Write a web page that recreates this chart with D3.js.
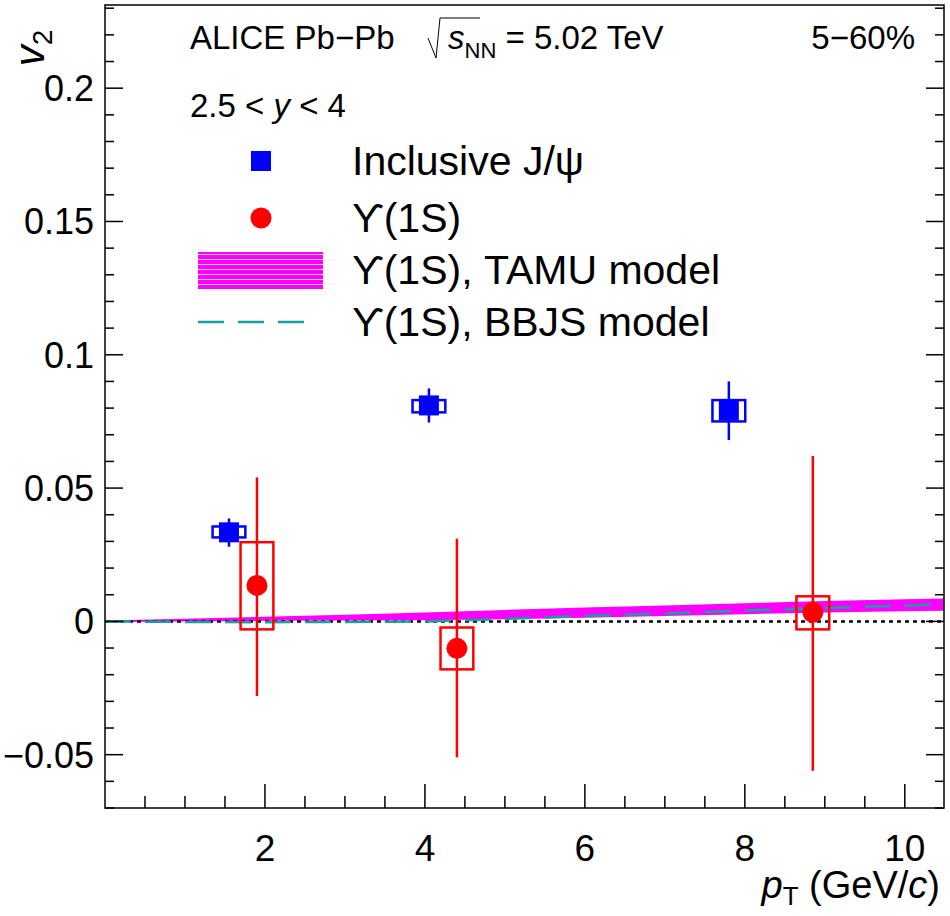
<!DOCTYPE html>
<html><head><meta charset="utf-8">
<script src="https://cdn.jsdelivr.net/npm/d3@7"></script>
<style>body{margin:0;background:#fff}text{font-family:"Liberation Sans",Arial,sans-serif}</style>
</head><body>
<script>
// J/psi points
var jpsiPt = [1.55, 4.05, 7.8];
var jpsiV2 = [0.0334, 0.081, 0.0791];
var jpsiStatLo = [0.028, 0.0746, 0.068];
var jpsiStatHi = [0.0386, 0.0874, 0.090];
var jpsiSysLo = [0.0315, 0.0784, 0.075];
var jpsiSysHi = [0.0356, 0.083, 0.083];
// Upsilon(1S) points
var upsPt = [1.9, 4.4, 8.85];
var upsV2 = [0.0135, -0.0101, 0.0034];
var upsStatLo = [-0.028, -0.051, -0.056];
var upsStatHi = [0.054, 0.031, 0.062];
var upsSysLo = [-0.003, -0.018, -0.003];
var upsSysHi = [0.0297, -0.0023, 0.0094];
// TAMU band
var tamuPt = [0, 1, 2, 3, 4, 5, 6, 7, 8, 9, 10, 10.5];
var tamuLo = [-0.0003, 0, 0.0002, 0.0003, 0.0004, 0.0008, 0.0014, 0.002, 0.0027, 0.0033, 0.0038, 0.004];
var tamuHi = [0.0003, 0.001, 0.0017, 0.0025, 0.0033, 0.0043, 0.0052, 0.006, 0.0068, 0.0076, 0.0083, 0.0086];
// BBJS curve
var bbjsPt = [0, 1, 2, 3, 4, 5, 6, 7, 8, 9, 10, 10.5];
var bbjsV2 = [0, -0.0002, -0.0003, -0.0002, 0, 0.0009, 0.002, 0.003, 0.0041, 0.005, 0.0059, 0.0064];

var xTicks = [2, 4, 6, 8, 10];
var yTicks = [-0.05, 0, 0.05, 0.1, 0.15, 0.2];
var yTickLabels = ["\u22120.05", "0", "0.05", "0.1", "0.15", "0.2"];

var W = 950, H = 916;
var svg = d3.select("body").append("svg").attr("width", W).attr("height", H);
var x = d3.scaleLinear().domain([0, 10.49]).range([105, 944]);
var y = d3.scaleLinear().domain([-0.07, 0.2312]).range([808, 5]);

var defs = svg.append("defs");
defs.append("clipPath").attr("id", "clip").append("rect")
  .attr("x", 105).attr("y", 5).attr("width", 839).attr("height", 803);
var pat = defs.append("pattern").attr("id", "hatch").attr("patternUnits", "userSpaceOnUse")
  .attr("width", 10).attr("height", 5);
pat.append("rect").attr("width", 10).attr("height", 5).attr("fill", "#ff00ff");
pat.append("line").attr("x1", 0).attr("x2", 10).attr("y1", 4.5).attr("y2", 4.5).attr("stroke", "#fff").attr("stroke-width", 0.8);

var plot = svg.append("g").attr("clip-path", "url(#clip)");

// TAMU band
var area = d3.area().x(function(d, i) { return x(tamuPt[i]); })
  .y0(function(d, i) { return y(tamuLo[i]); }).y1(function(d, i) { return y(tamuHi[i]); });
plot.append("path").datum(tamuPt).attr("d", area).attr("fill", "#ff00ff");

// zero line
plot.append("line").attr("x1", x(0)).attr("x2", x(10.49)).attr("y1", y(0)).attr("y2", y(0))
  .attr("stroke", "#000").attr("stroke-width", 2.5).attr("stroke-dasharray", "4,4");

// BBJS
var line = d3.line().x(function(d, i) { return x(bbjsPt[i]); }).y(function(d, i) { return y(bbjsV2[i]); });
plot.append("path").datum(bbjsPt).attr("d", line).attr("fill", "none")
  .attr("stroke", "#1a9e9e").attr("stroke-width", 2.5).attr("stroke-dasharray", "26,14");

var bw = 0.205;
// J/psi
jpsiPt.forEach(function(p, i) {
  plot.append("line").attr("x1", x(p)).attr("x2", x(p)).attr("y1", y(jpsiStatLo[i])).attr("y2", y(jpsiStatHi[i]))
    .attr("stroke", "blue").attr("stroke-width", 2.5);
  plot.append("rect").attr("x", x(p - bw)).attr("width", x(p + bw) - x(p - bw))
    .attr("y", y(jpsiSysHi[i])).attr("height", y(jpsiSysLo[i]) - y(jpsiSysHi[i]))
    .attr("fill", "none").attr("stroke", "blue").attr("stroke-width", 2.5);
  plot.append("rect").attr("x", x(p) - 10).attr("y", y(jpsiV2[i]) - 10).attr("width", 20).attr("height", 20).attr("fill", "blue");
});
// Upsilon
upsPt.forEach(function(p, i) {
  plot.append("line").attr("x1", x(p)).attr("x2", x(p)).attr("y1", y(upsStatLo[i])).attr("y2", y(upsStatHi[i]))
    .attr("stroke", "red").attr("stroke-width", 2.5);
  plot.append("rect").attr("x", x(p - bw)).attr("width", x(p + bw) - x(p - bw))
    .attr("y", y(upsSysHi[i])).attr("height", y(upsSysLo[i]) - y(upsSysHi[i]))
    .attr("fill", "none").attr("stroke", "red").attr("stroke-width", 2.5);
  plot.append("circle").attr("cx", x(p)).attr("cy", y(upsV2[i])).attr("r", 10.5).attr("fill", "red");
});

// frame
svg.append("rect").attr("x", 105).attr("y", 5).attr("width", 839).attr("height", 803)
  .attr("fill", "none").attr("stroke", "#000").attr("stroke-width", 1.5);

// ticks
var ax = svg.append("g").attr("stroke", "#000").attr("stroke-width", 1.5);
d3.range(0.5, 10.49, 0.5).forEach(function(v) {
  var major = Math.abs(v % 2) < 1e-6;
  var l = major ? 24 : 12;
  ax.append("line").attr("x1", x(v)).attr("x2", x(v)).attr("y1", 808).attr("y2", 808 - l);
});
d3.range(-0.07, 0.2305, 0.01).forEach(function(v) {
  v = Math.round(v * 100) / 100;
  var major = Math.abs(Math.round(v * 100) % 5) === 0;
  var l = major ? 18 : 9;
  ax.append("line").attr("x1", 105).attr("x2", 105 + l).attr("y1", y(v)).attr("y2", y(v));
  ax.append("line").attr("x1", 944).attr("x2", 944 - l).attr("y1", y(v)).attr("y2", y(v));
});

svg.selectAll(".xl").data(xTicks).join("text").attr("x", function(d) { return x(d); }).attr("y", 861)
  .attr("text-anchor", "middle").attr("font-size", 37).text(function(d) { return d; });
svg.selectAll(".yl").data(yTicks).join("text").attr("x", 94).attr("y", function(d) { return y(d) + 13; })
  .attr("text-anchor", "end").attr("font-size", 36).text(function(d, i) { return yTickLabels[i]; });

// axis titles
var yt = svg.append("text").attr("transform", "translate(44,48) rotate(-90)").attr("font-size", 42).attr("text-anchor", "middle");
yt.append("tspan").attr("font-style", "italic").text("v");
yt.append("tspan").attr("font-size", 28).attr("dy", 8).text("2");
var xt = svg.append("text").attr("x", 940).attr("y", 898).attr("text-anchor", "end").attr("font-size", 38);
xt.append("tspan").attr("font-style", "italic").text("p");
xt.append("tspan").attr("font-size", 26).attr("dy", 7).text("T");
xt.append("tspan").attr("dy", -7).text(" (GeV/");
xt.append("tspan").attr("font-style", "italic").text("c");
xt.append("tspan").text(")");

// header texts
svg.append("text").attr("x", 190).attr("y", 49).attr("font-size", 33).text("ALICE Pb\u2212Pb");
svg.append("path").attr("d", "M428,38 L436,58 L440,18 L480,18").attr("fill", "none").attr("stroke", "#000").attr("stroke-width", 1);
var s = svg.append("text").attr("x", 448).attr("y", 49).attr("font-size", 33);
s.append("tspan").attr("font-style", "italic").text("s");
s.append("tspan").attr("font-size", 22).attr("dy", 9).text("NN");
s.append("tspan").attr("dy", -9).text(" = 5.02 TeV");
svg.append("text").attr("x", 915).attr("y", 49).attr("text-anchor", "end").attr("font-size", 33).text("5\u221260%");
var rap = svg.append("text").attr("x", 190).attr("y", 117).attr("font-size", 33);
rap.append("tspan").text("2.5 < ");
rap.append("tspan").attr("font-style", "italic").text("y");
rap.append("tspan").text(" < 4");

// legend
var lg = svg.append("g");
lg.append("rect").attr("x", 251).attr("y", 151).attr("width", 20).attr("height", 20).attr("fill", "blue");
lg.append("circle").attr("cx", 261).attr("cy", 218).attr("r", 10.5).attr("fill", "red");
lg.append("rect").attr("x", 198).attr("y", 252).attr("width", 125).attr("height", 37).attr("fill", "url(#hatch)");
lg.append("line").attr("x1", 198).attr("x2", 316).attr("y1", 322).attr("y2", 322)
  .attr("stroke", "#1a9e9e").attr("stroke-width", 2.5).attr("stroke-dasharray", "26,14");
var legTexts = ["Inclusive J/\u03c8", "\u03d2(1S)", "\u03d2(1S), TAMU model", "\u03d2(1S), BBJS model"];
var legY = [161, 218, 270, 322];
lg.selectAll("text").data(legTexts).join("text").attr("x", 352).attr("y", function(d, i) { return legY[i] + 14; })
  .attr("font-size", 41).text(function(d) { return d; });
</script>
</body></html>
